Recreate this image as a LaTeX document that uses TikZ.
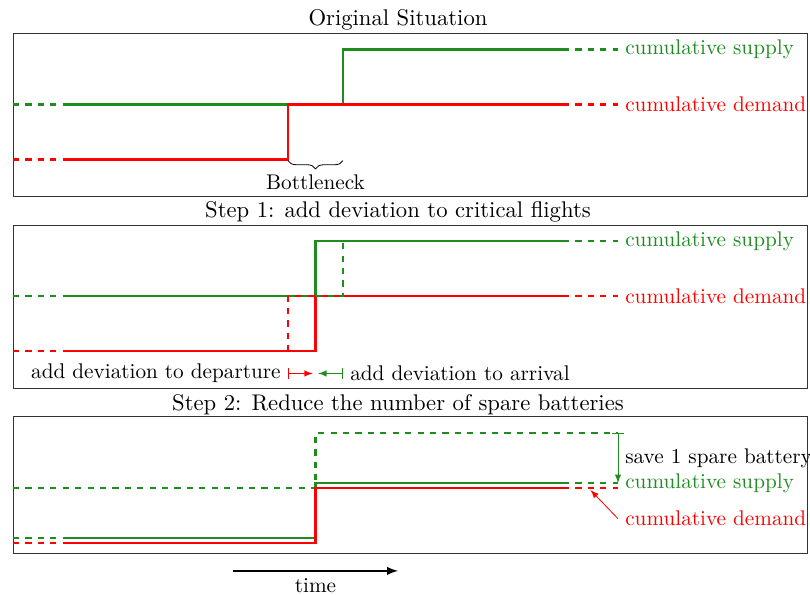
\documentclass[tikz,border=0pt]{standalone}
\usepackage{tikz}
\usetikzlibrary{arrows}
\usetikzlibrary{calc}
\usetikzlibrary{decorations.pathreplacing}
\usetikzlibrary{positioning}
\definecolor{supcol}{rgb}{0.12,0.55,0.12}
\tikzstyle{panel} = [
    black!80
]
\tikzstyle{sup}   = [
    line width=1pt,
    color=supcol
]
\tikzstyle{dem}   = [
    line width=1pt,
    color=red
]
\tikzstyle{old}   = [
    dashed
]
\tikzstyle{note}  = [
    |->,
    >=latex
]
\tikzstyle{title} = [
    above,
    inner sep=1pt,
    font=\fontsize{10.95}{13.6}\selectfont
]
\newcommand{\supply}{cumulative supply}
\newcommand{\demand}{cumulative demand}

\begin{document}
\begin{tikzpicture}[x=0.9338cm, y=0.9338cm, font=\fontsize{10.25}{12.3}\selectfont]
\useasboundingbox (-0.236,0.6) rectangle (14.491,-10.2);

% original situation
\draw[panel] (0,0) rectangle (14.45,-2.98);
\node[title] (t0) at (7,0) {Original Situation};
\draw[sup, old] (0,-1.3) -- (1,-1.3);
\draw[sup] (1,-1.3) -- (6,-1.3) -- (6,-0.3) -- (10,-0.3);
\draw[sup, old] (10,-0.3) -- (11,-0.3);
\draw[dem, old] (0,-2.3) -- (1,-2.3);
\draw[dem] (1,-2.3) -- (5,-2.3) -- (5,-1.3) -- (10,-1.3);
\draw[dem, old] (10,-1.3) -- (11,-1.3);
\node[right, text=supcol] (s0) at (11,-0.3) {\supply};
\node[right, text=red] (d0) at (11,-1.3) {\demand};
\draw[decorate, decoration={brace, mirror, amplitude=4pt}] (5,-2.32) -- (6,-2.32);
\node (bn) at (5.5,-2.72) {Bottleneck};

% step 1
\begin{scope}[yshift=-3.49*0.9338cm]
\draw[panel] (0,0) rectangle (14.45,-2.98);
\node[title] (t1) at (7,0) {Step 1: add deviation to critical flights};
\draw[sup, old] (0,-1.3) -- (1,-1.3);
\draw[sup] (1,-1.3) -- (5.5,-1.3) -- (5.5,-0.3) -- (10,-0.3);
\draw[sup, old] (10,-0.3) -- (11,-0.3);
\draw[dem, old] (0,-2.3) -- (1,-2.3);
\draw[dem] (1,-2.3) -- (5.5,-2.3) -- (5.5,-1.3) -- (10,-1.3);
\draw[dem, old] (10,-1.3) -- (11,-1.3);
\draw[dem, old] (5,-2.3) -- (5,-1.3) -- (5.5,-1.3);
\draw[sup, old] (5.5,-1.3) -- (6,-1.3) -- (6,-0.3);
\node[right, text=supcol] (s1) at (11,-0.3) {\supply};
\node[right, text=red] (d1) at (11,-1.3) {\demand};
\coordinate (dep) at (5,-2.7);
\coordinate (arr) at (6,-2.7);
\node[left] (ldep) at (dep) {add deviation to departure};
\node[right] (larr) at (arr) {add deviation to arrival};
\draw[note, red] (dep) -- ($(dep)+(0.45,0)$);
\draw[note, supcol] (arr) -- ($(arr)+(-0.45,0)$);
\end{scope}

% step 2
\begin{scope}[yshift=-6.98*0.9338cm]
\draw[panel] (0,0) rectangle (14.45,-2.49);
\node[title] (t2) at (7,0) {Step 2: Reduce the number of spare batteries};
\draw[sup, old] (0,-1.3) -- (5.5,-1.3) -- (5.5,-0.3) -- (11,-0.3);
\draw[sup, old] (0,-2.2) -- (1,-2.2);
\draw[sup] (1,-2.2) -- (5.5,-2.2) -- (5.5,-1.2) -- (10,-1.2);
\draw[sup, old] (10,-1.2) -- (11,-1.2);
\draw[dem, old] (0,-2.3) -- (1,-2.3);
\draw[dem] (1,-2.3) -- (5.5,-2.3) -- (5.5,-1.3) -- (10,-1.3);
\draw[dem, old] (10,-1.3) -- (11,-1.3);
\coordinate (top) at (11,-0.3);
\coordinate (low) at (11,-1.2);
\draw[note, supcol] (top) -- node[right, black] (save) {save 1 spare battery} (low);
\node[right, text=supcol] (s2) at (11,-1.2) {\supply};
\node[right, text=red] (d2) at (11,-1.85) {\demand};
\coordinate (dtip) at (10.5,-1.33);
\draw[->, >=latex, red] (d2.west) -- (dtip);
\end{scope}

% time axis
\coordinate (t start) at (4,-9.78);
\coordinate (t end) at (7,-9.78);
\draw[->, >=latex, thick] (t start) -- node[below] (time) {time} (t end);

\end{tikzpicture}
\end{document}
